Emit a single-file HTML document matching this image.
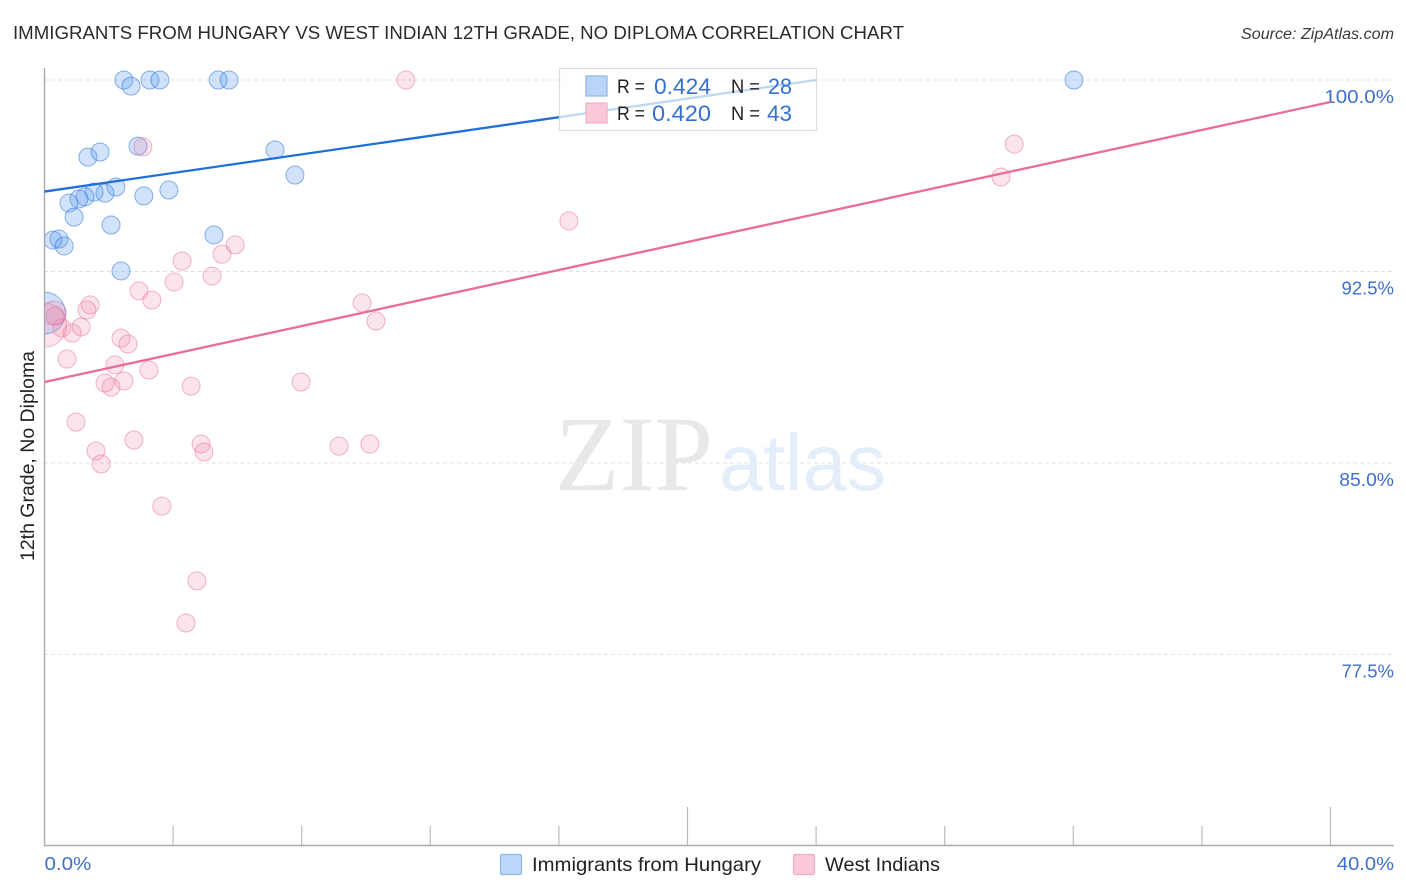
<!DOCTYPE html>
<html lang="en">
<head>
<meta charset="utf-8">
<title>Immigrants from Hungary vs West Indian 12th Grade, No Diploma Correlation Chart</title>
<style>
html,body{margin:0;padding:0;background:#fff;}
svg{display:block;font-family:"Liberation Sans",sans-serif;}
</style>
</head>
<body>
<svg id="chart" xmlns="http://www.w3.org/2000/svg" width="1406" height="892" viewBox="0 0 1406 892">
  <defs><clipPath id="plot-clip"><rect x="45" y="60" width="1349" height="785"/></clipPath></defs>
  <text x="13" y="39" font-size="18.5" fill="#2b2b2b" textLength="891" lengthAdjust="spacingAndGlyphs">IMMIGRANTS FROM HUNGARY VS WEST INDIAN 12TH GRADE, NO DIPLOMA CORRELATION CHART</text>
  <text x="1241" y="39" font-size="15.5" font-style="italic" fill="#3a3a3a" textLength="153" lengthAdjust="spacingAndGlyphs">Source: ZipAtlas.com</text>
  <text transform="translate(34 561) rotate(-90)" font-size="19" fill="#222" textLength="210" lengthAdjust="spacingAndGlyphs">12th Grade, No Diploma</text>
  <g id="grid"></g>
  <g>
    <text x="555" y="490" font-family="'Liberation Serif',serif" font-size="107" fill="#e8e8e8" textLength="158" lengthAdjust="spacingAndGlyphs">ZIP</text>
    <text x="719" y="490" font-size="80" fill="#e4edfa" textLength="167" lengthAdjust="spacingAndGlyphs">atlas</text>
  </g>
  <g id="axes"></g>
  <g id="points" clip-path="url(#plot-clip)"></g>
  <g id="trends"></g>
  <g>
    <rect x="559.5" y="68.5" width="257" height="62" fill="#fff" fill-opacity="0.72" stroke="#dcdcdc" stroke-width="1.2"/>
    <rect x="586" y="76" width="21" height="20" fill="#b9d4f7" stroke="#8fb6e6" stroke-width="1.2"/>
    <rect x="586" y="103" width="21" height="20" fill="#fbc8d8" stroke="#efb0c5" stroke-width="1.2"/>
    <text x="617" y="93" font-size="19" fill="#222" textLength="28" lengthAdjust="spacingAndGlyphs">R =</text>
    <text x="654" y="94" font-size="22" fill="#3470cf" textLength="57" lengthAdjust="spacingAndGlyphs">0.424</text>
    <text x="731" y="93" font-size="19" fill="#222" textLength="29" lengthAdjust="spacingAndGlyphs">N =</text>
    <text x="768" y="94" font-size="22" fill="#3470cf" textLength="24" lengthAdjust="spacingAndGlyphs">28</text>
    <text x="617" y="120" font-size="19" fill="#222" textLength="28" lengthAdjust="spacingAndGlyphs">R =</text>
    <text x="652" y="121" font-size="22" fill="#3470cf" textLength="59" lengthAdjust="spacingAndGlyphs">0.420</text>
    <text x="731" y="120" font-size="19" fill="#222" textLength="29" lengthAdjust="spacingAndGlyphs">N =</text>
    <text x="767" y="121" font-size="22" fill="#3470cf" textLength="25" lengthAdjust="spacingAndGlyphs">43</text>
  </g>
  <g>
    <g>
      <rect x="500.5" y="854.5" width="21" height="20" rx="1.5" fill="#bcd7f9" stroke="#8db7e8" stroke-width="1.2"/>
      <text x="532" y="871" font-size="19.5" fill="#222" textLength="229" lengthAdjust="spacingAndGlyphs">Immigrants from Hungary</text>
    </g>
    <g>
      <rect x="793.5" y="854.5" width="21" height="20" rx="1.5" fill="#fcc9d9" stroke="#efaec4" stroke-width="1.2"/>
      <text x="825" y="871" font-size="19.5" fill="#222" textLength="115" lengthAdjust="spacingAndGlyphs">West Indians</text>
    </g>
  </g>
</svg>
<script>
const yGridValues = [100, 92.5, 85, 77.5];
const yTickLabels = ['100.0%', '92.5%', '85.0%', '77.5%'];
const xTickValues = [0, 4, 8, 12, 16, 20, 24, 28, 32, 36, 40];
const xMajorTicks = [20, 40];
const xEndValues = [0, 40];
const xEndLabels = ['0.0%', '40.0%'];

const hungaryX = [2.47, 2.69, 3.28, 3.59, 5.40, 5.74, 32.02, 2.91, 1.35, 1.73, 7.17, 7.79, 2.22, 3.87, 3.09, 1.88, 1.54, 1.26, 1.07, 0.76, 0.92, 2.07, 5.27, 0.26, 0.45, 0.61, 2.38, 0];
const hungaryY = [100, 99.76, 100, 100, 100, 100, 100, 97.41, 96.98, 97.18, 97.26, 96.28, 95.81, 95.69, 95.46, 95.57, 95.61, 95.42, 95.34, 95.18, 94.63, 94.32, 93.93, 93.73, 93.77, 93.50, 92.52, 90.87];
const hungaryWeight = [1, 1, 1, 1, 1, 1, 1, 1, 1, 1, 1, 1, 1, 1, 1, 1, 1, 1, 1, 1, 1, 1, 1, 1, 1, 1, 1, 5.4];

const westIndianX = [11.24, 3.06, 30.16, 29.75, 16.31, 5.93, 5.52, 4.28, 4.03, 5.21, 2.94, 3.34, 1.42, 1.32, 9.88, 10.31, 1.14, 0.86, 0.54, 0.33, 0.30, 0.70, 2.38, 2.60, 2.19, 3.25, 2.47, 1.88, 2.07, 4.56, 7.98, 0.98, 2.78, 1.60, 1.76, 4.87, 4.96, 9.16, 10.12, 3.65, 4.74, 4.40, 0];
const westIndianY = [100, 97.38, 97.49, 96.20, 94.48, 93.54, 93.18, 92.91, 92.09, 92.32, 91.74, 91.38, 91.19, 90.99, 91.27, 90.56, 90.33, 90.09, 90.29, 90.76, 90.87, 89.07, 89.89, 89.66, 88.84, 88.64, 88.21, 88.13, 87.97, 88.01, 88.17, 86.60, 85.90, 85.47, 84.96, 85.74, 85.43, 85.66, 85.74, 83.31, 80.38, 78.73, 90.40];
const westIndianWeight = [1, 1, 1, 1, 1, 1, 1, 1, 1, 1, 1, 1, 1, 1, 1, 1, 1, 1, 1, 1, 1.8, 1, 1, 1, 1, 1, 1, 1, 1, 1, 1, 1, 1, 1, 1, 1, 1, 1, 1, 1, 1, 1, 6];

const hungaryTrendX = [0, 24];
const hungaryTrendY = [95.63, 100];
const westIndianTrendX = [0, 40];
const westIndianTrendY = [88.17, 99.14];

const NS = 'http://www.w3.org/2000/svg';
function xScale(v) { return 44.5 + v * 32.15; }
function yScale(v) { return 80 + (100 - v) * 25.53; }
function rScale(w) { return 9 * Math.sqrt(w); }
function make(parent, tag, attrs, text) {
  const el = document.createElementNS(NS, tag);
  Object.keys(attrs).forEach(function (k) { el.setAttribute(k, attrs[k]); });
  if (text !== undefined) el.textContent = text;
  parent.appendChild(el);
  return el;
}
/* the reference face has wider zeros: stretch tick labels by a fixed amount per zero */
function widenZeros(el) {
  const zeros = el.textContent.split('0').length - 1;
  if (zeros > 0) {
    el.setAttribute('textLength', el.getComputedTextLength() + 2.3 * zeros);
    el.setAttribute('lengthAdjust', 'spacingAndGlyphs');
  }
}

const grid = document.getElementById('grid');
const axes = document.getElementById('axes');
const points = document.getElementById('points');
const trends = document.getElementById('trends');

yGridValues.forEach(function (v, i) {
  const line = make(grid, 'line', { x1: 44, x2: 1394, y1: yScale(v), y2: yScale(v), stroke: '#e0e0e0', 'stroke-width': 1, 'stroke-dasharray': '4 3' });
  
  
  const label = make(axes, 'text', { x: 1394, y: yScale(v) + 23, 'font-size': 18.5, fill: '#3d6fcc', 'text-anchor': 'end' }, yTickLabels[i]);
  
  
  widenZeros(label);
});

const yAxisLine = make(axes, 'line', { x1: 44.5, x2: 44.5, y1: 68, y2: 846, stroke: '#aaa', 'stroke-width': 1.4 });


const xAxisLine = make(axes, 'line', { x1: 44, x2: 1394, y1: 845.5, y2: 845.5, stroke: '#aaa', 'stroke-width': 1.4 });



xTickValues.forEach(function (v) {
  if (v === 0) return;
  const top = xMajorTicks.indexOf(v) >= 0 ? 807 : 826;
  const tick = make(axes, 'line', { x1: xScale(v), x2: xScale(v), y1: top, y2: 845, stroke: '#bbb', 'stroke-width': 1.2 });
  
  
});

xEndValues.forEach(function (v, i) {
  const attrs = { y: 870, 'font-size': 18.5, fill: '#3d6fcc' };
  if (i === 0) { attrs.x = xScale(v); } else { attrs.x = 1394; attrs['text-anchor'] = 'end'; }
  const label = make(axes, 'text', attrs, xEndLabels[i]);
  
  
  widenZeros(label);
});

hungaryX.forEach(function (v, i) {
  const dot = make(points, 'circle', { cx: xScale(v), cy: yScale(hungaryY[i]), r: rScale(hungaryWeight[i]), fill: 'rgba(90,155,240,0.28)', stroke: 'rgba(45,115,215,0.55)', 'stroke-width': 1 });
  
  
});
westIndianX.forEach(function (v, i) {
  const dot = make(points, 'circle', { cx: xScale(v), cy: yScale(westIndianY[i]), r: rScale(westIndianWeight[i]), fill: 'rgba(240,130,165,0.22)', stroke: 'rgba(230,110,150,0.5)', 'stroke-width': 1 });
  
  
});

const hungaryTrend = make(trends, 'line', { x1: xScale(hungaryTrendX[0]), y1: yScale(hungaryTrendY[0]), x2: xScale(hungaryTrendX[1]), y2: yScale(hungaryTrendY[1]), stroke: '#1f6fd8', 'stroke-width': 2.3 });


const westIndianTrend = make(trends, 'line', { x1: xScale(westIndianTrendX[0]), y1: yScale(westIndianTrendY[0]), x2: xScale(westIndianTrendX[1]), y2: yScale(westIndianTrendY[1]), stroke: '#e96d9c', 'stroke-width': 2.3 });


</script>
</body>
</html>
